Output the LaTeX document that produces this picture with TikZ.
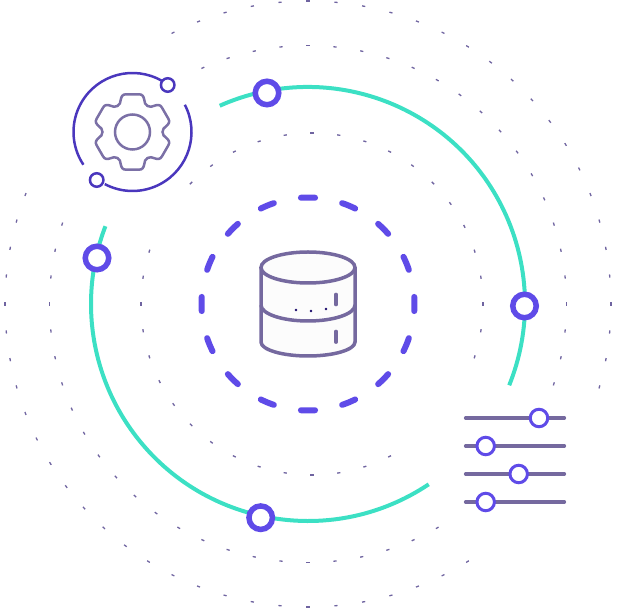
\documentclass[tikz,border=0pt]{standalone}
\usepackage{tikz}
\usetikzlibrary{positioning}
\definecolor{ringblue}{HTML}{5F4BE8}
\definecolor{tealline}{HTML}{3CE0C4}
\definecolor{slate}{HTML}{75699F}
\definecolor{gearslate}{HTML}{7B70A6}
\definecolor{deepblue}{HTML}{4A37BD}
\definecolor{tickgray}{HTML}{6F64A0}
\definecolor{navydot}{HTML}{1A0A6B}
\definecolor{cylfill}{HTML}{FCFCFC}
\tikzset{
  tealarc/.style={draw=tealline,line width=4pt},
  ringnode/.style={circle,draw=ringblue,fill=white,line width=5.5pt,minimum size=23.5pt,inner sep=0pt},
  knobnode/.style={circle,draw=ringblue,fill=white,line width=3pt,minimum size=17.5pt,inner sep=0pt},
  orbitnode/.style={circle,draw=deepblue,fill=white,line width=2.5pt,minimum size=13.5pt,inner sep=0pt},
  orbitarc/.style={draw=deepblue,line width=2.5pt},
  gearline/.style={draw=gearslate,line width=2.5pt,line cap=round},
  cylline/.style={draw=slate,line width=3.5pt},
  sliderline/.style={draw=slate,line width=3.2pt,line cap=round},
  ringdash/.style={draw=ringblue,line width=6pt,line cap=round},
  ticksty/.style={draw=tickgray,line width=1.3pt},
  dotnode/.style={circle,fill=navydot,minimum size=2.6pt,inner sep=0pt},
}
% centre x, radius, count, two ranges of left-out ticks
\newcommand{\tickring}[7]{
  \pgfmathtruncatemacro{\ticklast}{#3-1}
  \foreach \i in {0,...,\ticklast} {
    \pgfmathsetmacro{\tickangle}{90+\i/#3*360}
    \ifnum\i<#4 \def\showtick{1}\else
      \ifnum\i>#5
        \ifnum\i<#6 \def\showtick{1}\else
          \ifnum\i>#7 \def\showtick{1}\else \def\showtick{0}\fi
        \fi
      \else \def\showtick{0}\fi
    \fi
    \ifnum\showtick=1
      \draw[ticksty,shift={(#1,304)},rotate=\tickangle] (#2,-1.6) -- (#2,1.6);
    \fi
  }
}
\begin{document}
\begin{tikzpicture}[x=1pt,y=1pt]
    \useasboundingbox (0,0) rectangle (633,608);
    \coordinate (centre) at (308,304);
    \coordinate (gearc) at (132.5,476);

    \tickring{308}{303}{68}{6}{12}{41}{47}
    \tickring{308}{258.5}{60}{5}{11}{36}{41}
    \tickring{312}{171}{40}{6}{7}{24}{27}

    \begin{scope}[shift={(centre)}]
      \draw[tealarc] (114:217) arc[start angle=114,end angle=-22,radius=217];
      \draw[tealarc] (-56.2:217) arc[start angle=-56.2,end angle=-201,radius=217];
      \foreach \a in {0,22.5,...,337.5}
        \draw[ringdash] ({\a-3.8}:106.5) arc[start angle=\a-3.8,end angle=\a+3.8,radius=106.5];
    \end{scope}
    \node[ringnode] (ringtop) at (267,515) {};
    \node[ringnode] (ringleft) at (97,350) {};
    \node[ringnode] (ringright) at (524.5,302) {};
    \node[ringnode] (ringbottom) at (260.7,90.3) {};

    % database
    \draw[cylline,fill=cylfill] (261,340.5) -- (261,266) arc[start angle=180,end angle=360,x radius=47,y radius=14]
        -- (355,340.5);
    \draw[cylline,fill=cylfill] (308,340.5) ellipse[x radius=47,y radius=15.5];
    \draw[cylline] (261,303) arc[start angle=180,end angle=360,x radius=47,y radius=16];
    \draw[sliderline] (336,313.7) -- (336,303.3);
    \draw[sliderline] (336,276.7) -- (336,265.7);
    \node[dotnode] (dota) at (296,298) {};
    \node[dotnode] (dotb) at (311,297) {};
    \node[dotnode] (dotc) at (326,299) {};

    % gear
    \begin{scope}[shift={(gearc)}]
      \draw[orbitarc] (60:59) arc[start angle=60,end angle=213.7,radius=59];
      \draw[orbitarc] (27.5:59) arc[start angle=27.5,end angle=-118,radius=59];
      \draw[gearline] (0,0) circle[radius=17.5];
      \foreach \a in {0,60,...,300}
        \draw[gearline,rotate=\a] (15,26) .. controls (12.4,27.5) and (12.3,29.5) .. (11.8,32)
            .. controls (11.2,35.5) and (10,37.7) .. (6.5,37.7) -- (-6.5,37.7)
            .. controls (-10,37.7) and (-11.2,35.5) .. (-11.8,32)
            .. controls (-12.3,29.5) and (-12.4,27.5) .. (-15,26);
    \end{scope}
    \node[orbitnode] (orbita) at (167.7,523) {};
    \node[orbitnode] (orbitb) at (96.7,428) {};

    % sliders
    \foreach \y/\k [count=\n] in {190/539,162/485.7,134/518.7,106/485.7} {
      \draw[sliderline] (465.5,\y) -- (564.5,\y);
      \node[knobnode] (knob\n) at (\k,\y) {};
    }
\end{tikzpicture}
\end{document}
